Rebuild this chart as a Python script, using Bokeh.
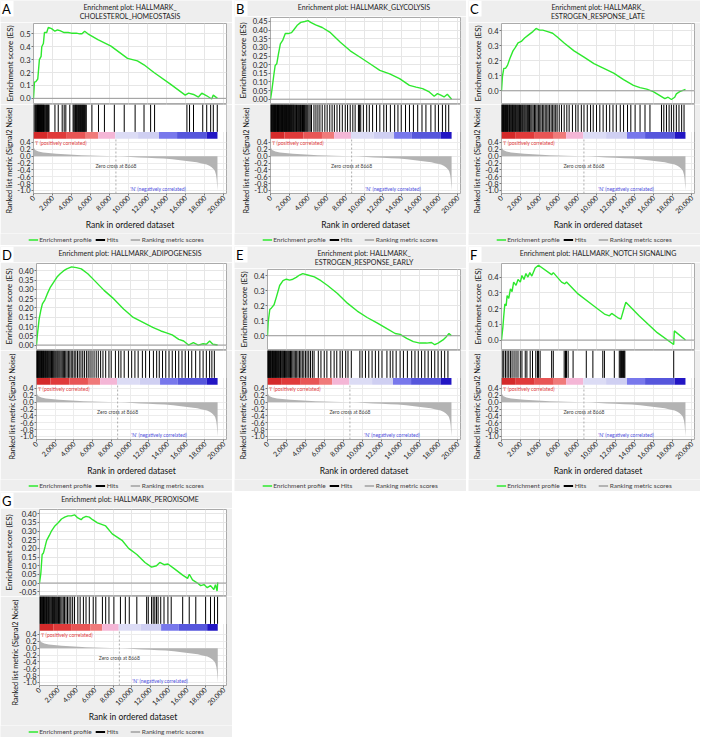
import math
from bokeh.plotting import figure
from bokeh.models import (Range1d, FixedTicker, PrintfTickFormatter, NumeralTickFormatter,
                          Span, Legend, LegendItem, Title)
from bokeh.layouts import column, row
from bokeh.embed import file_html
from bokeh.resources import INLINE
from bokeh.core.properties import value

FONT = "Lato"
N_GENES = 19350
X_MAX = 20300
ZERO_CROSS = 8668

rank_ticks = [0, 2000, 4000, 6000, 8000, 10000, 12000, 14000, 16000, 18000, 20000]
metric_ticks = [-1.0, -0.8, -0.6, -0.4, -0.2, 0.0, 0.2, 0.4]

# ranked list metric (same for all panels)
rank_x = [0, 60, 173, 520, 1000, 1561, 2400, 3296, 4200, 5032, 6000, 6767, 7700, 8668, 9500,
          10236, 11100, 11972, 12900, 13707, 14600, 15442, 16300, 17177, 17700, 18218, 18500,
          18738, 18950, 19085, 19200, 19259, 19300, 19350]
rank_metric = [0.30, 0.24, 0.18, 0.135, 0.11, 0.09, 0.073, 0.06, 0.045, 0.03, 0.02, 0.012, 0.006,
               0.0, -0.012, -0.025, -0.035, -0.045, -0.057, -0.07, -0.09, -0.12, -0.15, -0.18,
               -0.21, -0.24, -0.28, -0.32, -0.38, -0.43, -0.55, -0.67, -0.82, -1.0]

# colour band under the hits
bar_start = [0, 1500, 3500, 5500, 6800, 8600, 11000, 13200, 15100, 18200]
bar_end = [1500, 3500, 5500, 6800, 8600, 11000, 13200, 15100, 18200, 19350]
bar_colors = ["#d42a2a", "#e03a3a", "#e85555", "#f07a7a", "#f4b6d6", "#dcdcf5", "#cfcff2",
              "#7878ec", "#5656dc", "#2216c4"]

legend_labels = ["Enrichment profile", "Hits", "Ranking metric scores"]

# ---------------- Panel A
title_A = ["Enrichment plot: HALLMARK_", "CHOLESTEROL_HOMEOSTASIS"]
es_x_A = [0, 100, 250, 450, 620, 800, 870, 1040, 1150, 1390, 1560, 1900, 2250, 2530, 2780, 3230,
          3640, 3990, 4510, 4860, 5100, 5380, 5720, 6770, 8150, 9890, 10930, 11620, 12670, 14400,
          15960, 16310, 16830, 17350, 17700, 18220, 18740, 18910, 19350]
es_y_A = [0.0, 0.125, 0.13, 0.15, 0.30, 0.325, 0.40, 0.425, 0.51, 0.51, 0.55, 0.54, 0.52, 0.53,
          0.525, 0.51, 0.51, 0.505, 0.505, 0.50, 0.50, 0.52, 0.50, 0.455, 0.405, 0.31, 0.29, 0.26,
          0.20, 0.11, 0.025, 0.04, 0.03, 0.01, 0.04, 0.02, -0.005, 0.025, 0.0]
hits_A = [60, 173, 240, 300, 380, 416, 470, 520, 560, 625, 680, 729, 780, 833, 880, 937, 1000, 1050,
          1110, 1180, 1284, 1350, 1420, 1492, 1560, 1631, 2256, 2603, 3019, 3227, 3401, 3817, 4164,
          4250, 4350, 4407, 4480, 4546, 4600, 4685, 4750, 4823, 4900, 4962, 5030, 5101, 5170, 5240,
          5300, 5379, 5450, 5552, 6142, 6836, 7461, 8502, 9543, 10688, 11625, 12319, 12735, 16136,
          16413, 16830, 17801, 18218, 18634, 18912, 19330]
ticks_A = [0.0, 0.1, 0.2, 0.3, 0.4, 0.5]
ylim_A = (-0.04, 0.58)

# ---------------- Panel B
title_B = ["Enrichment plot: HALLMARK_GLYCOLYSIS"]
es_x_B = [0, 142, 355, 497, 669, 842, 1055, 1298, 1582, 1896, 2251, 2535, 2890, 3235, 3661, 4015,
          4289, 4820, 5526, 6409, 7463, 8518, 9572, 10626, 11681, 12736, 13790, 14845, 15555, 16254,
          16964, 17492, 17837, 18191, 18546, 18892, 19350]
es_y_B = [0.0, 0.05, 0.14, 0.195, 0.205, 0.26, 0.32, 0.34, 0.38, 0.38, 0.385, 0.405, 0.43, 0.445,
          0.45, 0.455, 0.445, 0.43, 0.415, 0.385, 0.33, 0.28, 0.243, 0.205, 0.167, 0.147, 0.119,
          0.08, 0.07, 0.061, 0.042, 0.017, 0.032, 0.023, 0.013, 0.029, 0.0]
hits_B = [20, 75, 130, 170, 240, 290, 345, 410, 455, 520, 575, 610, 680, 745, 790, 860, 905, 980,
          1030, 1095, 1160, 1210, 1275, 1330, 1405, 1470, 1520, 1590, 1655, 1700, 1780, 1840, 1905,
          1960, 2040, 2110, 2170, 2230, 2310, 2385, 2440, 2520, 2600, 2690, 2780, 2870, 2980, 3090,
          3210, 3300, 3420, 3530, 3640, 3760, 3870, 3980, 4110, 4240, 4380, 4644, 4856, 5067, 5278,
          5524, 5806, 6052, 6333, 6580, 6826, 7107, 7389, 7671, 7987, 8234, 8515, 8796, 9043, 9395,
          9500, 9641, 9922, 10274, 10556, 10908, 11329, 11681, 12104, 12385, 12808, 13265, 13617,
          13969, 14426, 14848, 15271, 15728, 16185, 16607, 17136, 17593, 17945, 18367, 18718, 19040]
ticks_B = [0.0, 0.05, 0.10, 0.15, 0.20, 0.25, 0.30, 0.35, 0.40, 0.45]
ylim_B = (-0.025, 0.473)

# ---------------- Panel C
title_C = ["Enrichment plot: HALLMARK_", "ESTROGEN_RESPONSE_LATE"]
es_x_C = [0, 100, 240, 420, 630, 870, 1210, 1460, 1740, 2080, 2430, 2850, 3300, 3640, 3990, 4340,
          4860, 5380, 5900, 6590, 7630, 8680, 9720, 10760, 11800, 12840, 13880, 14570, 15270,
          15960, 16660, 17180, 17520, 17870, 18220, 18390, 18740, 19350]
es_y_C = [0.0, 0.096, 0.15, 0.15, 0.17, 0.214, 0.267, 0.29, 0.32, 0.33, 0.353, 0.374, 0.396, 0.417,
          0.406, 0.406, 0.396, 0.385, 0.358, 0.32, 0.267, 0.225, 0.182, 0.15, 0.118, 0.075, 0.036,
          0.021, 0.011, -0.006, -0.032, -0.053, -0.043, -0.058, -0.043, -0.021, -0.006, 0.01]
hits_C = [15, 60, 120, 190, 230, 300, 370, 430, 510, 560, 640, 700, 790, 850, 920, 1000, 1080, 1150,
          1230, 1300, 1390, 1460, 1550, 1640, 1720, 1810, 1900, 1990, 2080, 2190, 2280, 2390, 2490,
          2600, 2720, 2830, 2950, 3080, 3200, 3330, 3470, 3600, 3740, 3880, 4020, 4150, 4300, 4450,
          4600, 4760, 4900, 5060, 5220, 5380, 5530, 5700, 5850, 6072, 6315, 6593, 6871, 7114, 7461,
          7808, 8050, 8397, 8675, 9022, 9369, 9647, 9994, 10341, 10688, 11035, 11382, 11729, 12076,
          12492, 12839, 13255, 13602, 14053, 14574, 15095, 15615, 16830, 17073, 17350, 17628, 17870,
          18113, 18391, 18669, 18950, 19200]
ticks_C = [0.0, 0.1, 0.2, 0.3, 0.4]
ylim_C = (-0.085, 0.45)

# ---------------- Panel D
title_D = ["Enrichment plot: HALLMARK_ADIPOGENESIS"]
es_x_D = [0, 100, 280, 450, 630, 900, 1150, 1490, 1840, 2190, 2530, 2880, 3230, 3750, 4270, 4790,
          5480, 6180, 7220, 8260, 9300, 10340, 11380, 12420, 13290, 13810, 14500, 15200, 15720,
          16240, 16760, 17280, 17800, 18150, 18500, 18840, 19350]
es_y_D = [0.0, 0.058, 0.14, 0.185, 0.222, 0.244, 0.276, 0.313, 0.34, 0.367, 0.385, 0.40, 0.411,
          0.422, 0.418, 0.411, 0.385, 0.349, 0.295, 0.249, 0.195, 0.149, 0.122, 0.095, 0.076, 0.067,
          0.055, 0.031, 0.022, 0.0, 0.013, 0.0, 0.007, 0.004, 0.022, 0.004, 0.0]
hits_D = [10, 50, 110, 160, 230, 280, 350, 400, 470, 530, 600, 660, 740, 800, 880, 950, 1030, 1100,
          1190, 1260, 1350, 1430, 1520, 1600, 1700, 1790, 1880, 1980, 2080, 2190, 2290, 2400, 2510,
          2630, 2750, 2870, 3000, 3130, 3270, 3410, 3560, 3710, 3870, 4030, 4200, 4380, 4560, 4750,
          4940, 5120, 5330, 5520, 5720, 5930, 6150, 6380, 6600, 6850, 7100, 7391, 7738, 7981, 8432,
          8779, 9022, 9369, 9820, 10167, 10514, 10861, 11312, 11659, 12076, 12492, 12839, 13117,
          13464, 13811, 14158, 14505, 14852, 15199, 15546, 15893, 16240, 16587, 17003, 17454, 17801,
          18148, 18495, 18738, 19000]
ticks_D = [0.0, 0.05, 0.10, 0.15, 0.20, 0.25, 0.30, 0.35, 0.40]
ylim_D = (-0.024, 0.44)

# ---------------- Panel E
title_E = ["Enrichment plot: HALLMARK_", "ESTROGEN_RESPONSE_EARLY"]
es_x_E = [0, 70, 240, 420, 690, 940, 1280, 1630, 1980, 2330, 2670, 3020, 3370, 3710, 4230, 4930,
          5620, 6320, 7360, 8400, 9440, 10480, 11520, 12560, 13430, 13950, 14640, 15340, 16030,
          16730, 17250, 17590, 17940, 18460, 18810, 19090, 19350]
es_y_E = [0.0, 0.09, 0.175, 0.186, 0.207, 0.26, 0.336, 0.368, 0.378, 0.372, 0.378, 0.39, 0.406,
          0.415, 0.406, 0.394, 0.368, 0.336, 0.282, 0.218, 0.165, 0.122, 0.086, 0.047, 0.015, 0.009,
          -0.017, -0.039, -0.049, -0.049, -0.045, -0.06, -0.049, -0.028, -0.006, 0.015, 0.0]
hits_E = [15, 55, 90, 150, 200, 270, 330, 380, 460, 520, 590, 650, 720, 790, 850, 930, 990, 1070,
          1140, 1210, 1290, 1370, 1440, 1530, 1610, 1700, 1790, 1880, 1980, 2080, 2190, 2300, 2420,
          2540, 2670, 2800, 2930, 3070, 3210, 3360, 3510, 3660, 3820, 3990, 4160, 4340, 4520, 4720,
          4900, 5344, 5621, 5968, 6246, 6662, 7009, 7287, 7634, 7877, 8224, 8467, 8814, 9716, 9959,
          10306, 10653, 11000, 11347, 11694, 12041, 12561, 12908, 13186, 13533, 13949, 14296, 14713,
          15164, 15511, 15858, 16205, 16552, 16899, 17246, 17593, 17940, 18287, 18634, 18980]
ticks_E = [0.0, 0.1, 0.2, 0.3, 0.4]
ylim_E = (-0.092, 0.443)

# ---------------- Panel F
title_F = ["Enrichment plot: HALLMARK_NOTCH SIGNALING"]
es_x_F = [0, 140, 240, 350, 490, 590, 760, 940, 1110, 1280, 1530, 1740, 1980, 2150, 2360, 2570,
          2780, 2980, 3190, 3540, 3890, 5270, 5450, 6320, 6660, 6840, 8050, 9440, 10130, 10830,
          11350, 11590, 12210, 12560, 12910, 13080, 14470, 16380, 18110, 18180, 19350]
es_y_F = [0.0, 0.079, 0.154, 0.229, 0.218, 0.282, 0.265, 0.325, 0.308, 0.368, 0.347, 0.385, 0.368,
          0.41, 0.385, 0.422, 0.40, 0.428, 0.406, 0.457, 0.475, 0.415, 0.428, 0.368, 0.357, 0.368,
          0.293, 0.229, 0.197, 0.165, 0.154, 0.169, 0.143, 0.133, 0.207, 0.24, 0.154, 0.047, -0.028,
          0.058, 0.0]
hits_F = [139, 243, 416, 590, 763, 937, 1110, 1319, 1527, 1735, 1978, 2151, 2498, 2672, 3019, 3262,
          3609, 3782, 3886, 4060, 5274, 5448, 6593, 6732, 6836, 7009, 7530, 8918, 9612, 10653, 10826,
          11867, 12388, 12492, 12561, 12631, 12735, 12839, 12908, 12978, 18113]
ticks_F = [0.0, 0.1, 0.2, 0.3, 0.4]
ylim_F = (-0.06, 0.486)

# ---------------- Panel G
title_G = ["Enrichment plot: HALLMARK_PEROXISOME"]
es_x_G = [0, 143, 287, 431, 605, 779, 1066, 1312, 1672, 2030, 2388, 2737, 3096, 3454, 3803, 4162,
          4520, 4695, 5053, 5402, 5761, 6294, 7185, 7893, 8959, 9676, 10568, 11449, 12167, 12700,
          13059, 13520, 13940, 14658, 15540, 16077, 16265, 16611, 17148, 17497, 17855, 18214,
          18566, 18925, 19100, 19280, 19350]
es_y_G = [0.0, 0.055, 0.165, 0.174, 0.21, 0.247, 0.275, 0.302, 0.33, 0.348, 0.37, 0.381, 0.388,
          0.388, 0.394, 0.376, 0.366, 0.376, 0.385, 0.381, 0.366, 0.348, 0.33, 0.284, 0.247, 0.2,
          0.165, 0.119, 0.092, 0.10, 0.119, 0.106, 0.11, 0.082, 0.046, 0.027, 0.051, 0.018, 0.0,
          -0.015, -0.009, -0.027, -0.015, -0.037, -0.009, -0.046, 0.004]
hits_G = [30, 110, 160, 240, 290, 350, 430, 470, 560, 610, 690, 770, 830, 910, 990, 1060, 1150,
          1240, 1330, 1420, 1510, 1620, 1720, 1830, 1940, 2060, 2180, 2310, 2440, 2580, 2720, 2880,
          3040, 3210, 3400, 3600, 3806, 4162, 4411, 4766, 5050, 5406, 5833, 6117, 6829, 7184, 7540,
          8074, 8785, 9318, 9746, 10564, 11631, 11808, 12164, 12342, 12519, 12698, 12875, 13160,
          13516, 13942, 14298, 15543, 16254, 16966, 18033, 18566, 18993, 19330]
ticks_G = [-0.05, 0.0, 0.05, 0.10, 0.15, 0.20, 0.25, 0.30, 0.35, 0.40]
ylim_G = (-0.072, 0.425)

# ---------------- layout constants
PANEL_BG = "#eeeeee"
W = 232
TOP_H = 104          # header + ES plot
LOW_H = 129          # hits + colour band + ranked plot + x axis
LEG_H = 12
ML = 33
MR = 6
FRAME_W = W - ML - MR
HITS_LO, HITS_HI = 0.71, 1.51
BAR_LO = 0.51
LOW_Y = (-1.09, 1.51)
GREEN = "#2ee82e"
GRAY = "#b3b3b3"


def blank_fig(w, h, xr, yr):
    f = figure(width=w, height=h, x_range=xr, y_range=yr, title=None,
               output_backend="svg", toolbar_location=None, x_axis_type=None,
               y_axis_type=None, min_border=0, min_border_left=0, min_border_right=0,
               min_border_top=0, min_border_bottom=0, background_fill_color=PANEL_BG,
               border_fill_color=PANEL_BG, outline_line_color=None, frame_align=False)
    f.grid.visible = False
    return f


def style_axis(ax, size="7.5px"):
    ax.major_label_text_font = FONT
    ax.major_label_text_font_size = size
    ax.major_label_text_color = "#222222"
    ax.axis_label_text_font = FONT
    ax.axis_label_text_font_size = "8px"
    ax.axis_label_text_font_style = "normal"
    ax.axis_label_text_color = "#111111"
    ax.axis_line_color = None
    ax.major_tick_line_color = "#777777"
    ax.major_tick_out = 2
    ax.major_tick_in = 0
    ax.minor_tick_line_color = None
    ax.major_label_standoff = 1
    ax.axis_label_standoff = 2


def make_panel(letter, title_lines, es_x, es_y, hits, yticks, ylim, fmt):
    hh = 22 if len(title_lines) == 2 else 16
    # header: letter and title
    head = blank_fig(W, hh, Range1d(0, W), Range1d(0, hh))
    head.quad(left=[0], right=[13], bottom=[hh - 16], top=[hh], fill_color="white",
              line_color=None)
    head.text(x=[1.5], y=[hh], text=[letter], text_font=value(FONT), text_font_size="13px",
              text_color="black", text_baseline="top", text_align="left")
    head.text(x=[ML + FRAME_W / 2] * len(title_lines),
              y=[hh - 2 - 9 * i for i in range(len(title_lines))], text=title_lines,
              text_font=value(FONT), text_font_size="7px", text_color="#222222",
              text_baseline="top", text_align="center")

    es = figure(width=W, height=TOP_H - hh, x_range=Range1d(0, X_MAX), y_range=Range1d(*ylim),
                title=None, output_backend="svg", toolbar_location=None,
                min_border_left=ML, min_border_right=MR, min_border_top=1,
                min_border_bottom=1, background_fill_color="white",
                border_fill_color=PANEL_BG, outline_line_color="#aaaaaa")
    es.xaxis.visible = False
    es.xaxis.ticker = FixedTicker(ticks=rank_ticks)
    es.xgrid.ticker = FixedTicker(ticks=rank_ticks)
    es.yaxis.ticker = FixedTicker(ticks=yticks)
    es.yaxis.formatter = PrintfTickFormatter(format=fmt)
    es.yaxis.axis_label = "Enrichment score (ES)"
    style_axis(es.yaxis[0])
    es.grid.grid_line_color = "#e6e6e6"
    es.add_layout(Span(location=0, dimension="width", line_color="#999999", line_width=1))
    es.line(es_x, es_y, line_color=GREEN, line_width=1.4)

    low = figure(width=W, height=LOW_H, x_range=es.x_range, y_range=Range1d(*LOW_Y),
                 title=None, output_backend="svg", toolbar_location=None,
                 min_border_left=ML, min_border_right=MR, min_border_top=0,
                 min_border_bottom=0, background_fill_color="white",
                 border_fill_color=PANEL_BG, outline_line_color="#aaaaaa")
    low.xaxis.ticker = FixedTicker(ticks=rank_ticks)
    low.xgrid.ticker = FixedTicker(ticks=rank_ticks)
    low.xaxis.formatter = NumeralTickFormatter(format="0,0")
    low.xaxis.major_label_orientation = math.pi / 4
    low.xaxis.axis_label = "Rank in ordered dataset"
    low.yaxis.ticker = FixedTicker(ticks=metric_ticks)
    low.ygrid.ticker = FixedTicker(ticks=metric_ticks)
    low.yaxis.formatter = PrintfTickFormatter(format="%.1f")
    style_axis(low.yaxis[0])
    style_axis(low.xaxis[0], size="7px")
    low.xaxis.axis_label_text_font_size = "8.5px"
    low.xaxis.axis_label_standoff = 1
    low.grid.grid_line_color = "#ececec"
    low.add_layout(Title(text="Ranked list metric (Signal2 Noise)", align="left", offset=-20,
                         standoff=2, text_font=FONT, text_font_size="7.3px",
                         text_font_style="normal", text_color="#111111"), "left")

    low.quad(left=[0], right=[X_MAX], bottom=[HITS_LO], top=[HITS_HI], fill_color="white",
             line_color=None)
    low.segment(x0=hits, y0=HITS_LO, x1=hits, y1=HITS_HI, line_color="black", line_width=1)
    low.quad(left=bar_start, right=bar_end, bottom=BAR_LO, top=HITS_LO, fill_color=bar_colors,
             line_color=None)
    low.varea(x=rank_x, y1=0, y2=rank_metric, fill_color=GRAY)
    low.segment(x0=[ZERO_CROSS], y0=[LOW_Y[0]], x1=[ZERO_CROSS], y1=[BAR_LO],
                line_color="#999999", line_dash="2 2", line_width=0.8)
    low.text(x=[150], y=[0.47], text=["'I' (positively correlated)"], text_font=value(FONT),
             text_font_size="5px", text_color="#e03a3a", text_baseline="top", text_align="left")
    low.text(x=[ZERO_CROSS], y=[-0.29], text=["Zero cross at %d" % ZERO_CROSS],
             text_font=value(FONT), text_font_size="5px", text_color="#444444",
             text_baseline="middle", text_align="center")
    low.text(x=[13100], y=[-0.95], text=["'N' (negatively correlated)"], text_font=value(FONT),
             text_font_size="5px", text_color="#5050e0", text_baseline="middle",
             text_align="center")

    # legend strip (swatch renderers sit outside the visible range)
    leg_fig = blank_fig(W, LEG_H, Range1d(0, 1), Range1d(0, 1))
    r1 = leg_fig.line(x=[0, 1], y=[-9, -9], line_color=GREEN, line_width=1.5)
    r2 = leg_fig.line(x=[0, 1], y=[-9, -9], line_color="black", line_width=2)
    r3 = leg_fig.line(x=[0, 1], y=[-9, -9], line_color=GRAY, line_width=2)
    leg = Legend(items=[LegendItem(label=legend_labels[0], renderers=[r1]),
                        LegendItem(label=legend_labels[1], renderers=[r2]),
                        LegendItem(label=legend_labels[2], renderers=[r3])],
                 orientation="horizontal", location="center", label_text_font=FONT,
                 label_text_font_size="6.5px", glyph_width=10, glyph_height=6, label_height=6,
                 label_standoff=1, spacing=4, padding=1, margin=0, border_line_color=None,
                 background_fill_alpha=0)
    leg_fig.add_layout(leg)
    return column(head, es, low, leg_fig, spacing=0)


pA = make_panel("A", title_A, es_x_A, es_y_A, hits_A, ticks_A, ylim_A, "%.1f")
pB = make_panel("B", title_B, es_x_B, es_y_B, hits_B, ticks_B, ylim_B, "%.2f")
pC = make_panel("C", title_C, es_x_C, es_y_C, hits_C, ticks_C, ylim_C, "%.1f")
pD = make_panel("D", title_D, es_x_D, es_y_D, hits_D, ticks_D, ylim_D, "%.2f")
pE = make_panel("E", title_E, es_x_E, es_y_E, hits_E, ticks_E, ylim_E, "%.1f")
pF = make_panel("F", title_F, es_x_F, es_y_F, hits_F, ticks_F, ylim_F, "%.1f")
pG = make_panel("G", title_G, es_x_G, es_y_G, hits_G, ticks_G, ylim_G, "%.2f")

page = column(row(pA, pB, pC, spacing=2), row(pD, pE, pF, spacing=2), row(pG, spacing=2),
              spacing=1)
open("out.html", "w").write(file_html(page, INLINE))
